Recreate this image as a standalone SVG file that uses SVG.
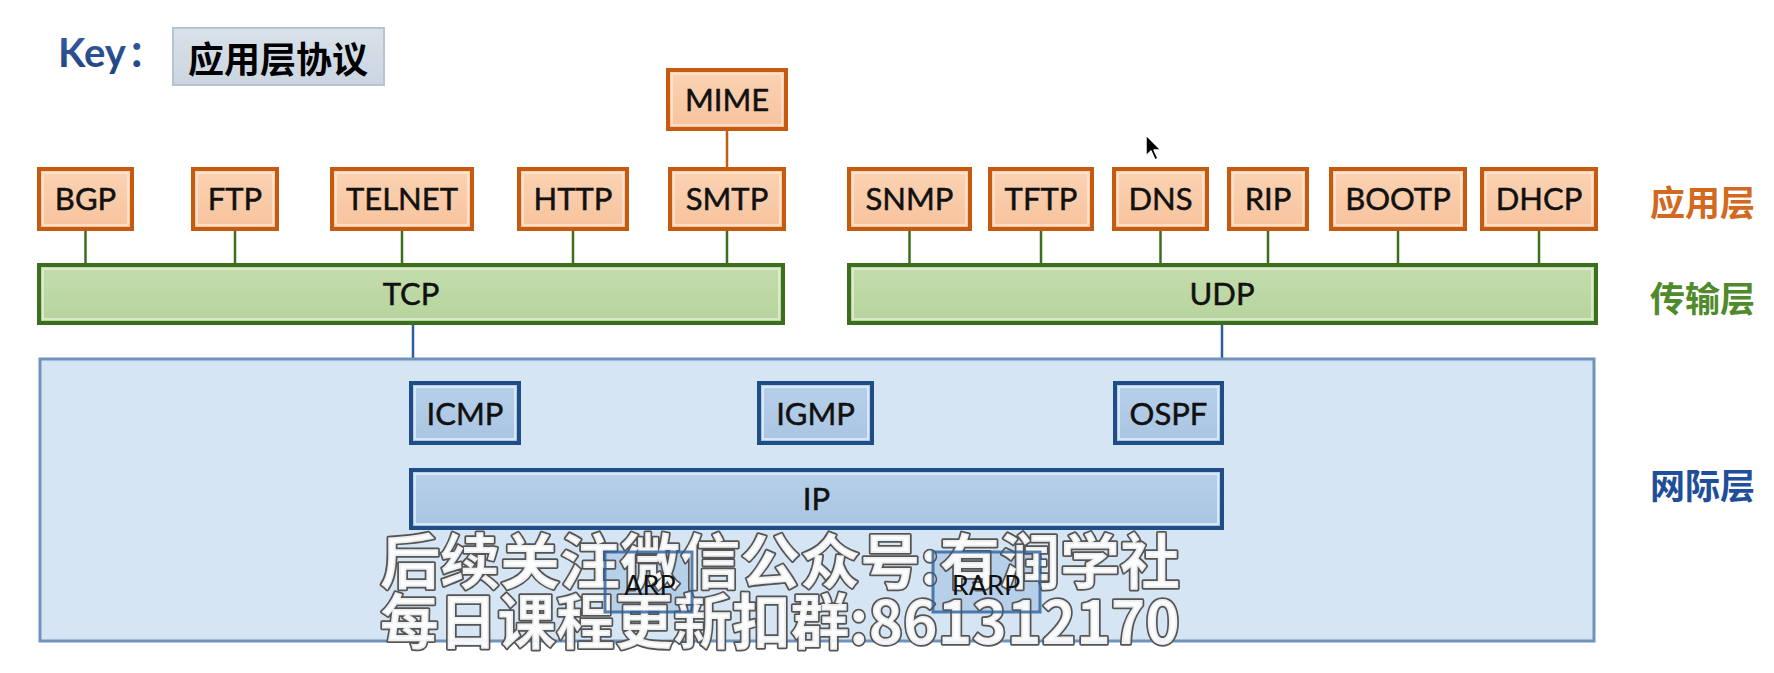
<svg xmlns="http://www.w3.org/2000/svg" width="1774" height="673" viewBox="0 0 1774 673">
<defs>
<linearGradient id="gApp" x1="0" y1="0" x2="0" y2="1"><stop offset="0" stop-color="#fbd3b4"/><stop offset="1" stop-color="#f7c39d"/></linearGradient>
<linearGradient id="gTr" x1="0" y1="0" x2="0" y2="1"><stop offset="0" stop-color="#c4dcad"/><stop offset="1" stop-color="#b6d49d"/></linearGradient>
<linearGradient id="gNet" x1="0" y1="0" x2="0" y2="1"><stop offset="0" stop-color="#b8d0e9"/><stop offset="1" stop-color="#a9c5e3"/></linearGradient>
<linearGradient id="gKey" x1="0" y1="0" x2="0" y2="1"><stop offset="0" stop-color="#d9e1ea"/><stop offset="1" stop-color="#cbd5e0"/></linearGradient>
<linearGradient id="gKeyTxt" x1="0" y1="0" x2="0" y2="1"><stop offset="0" stop-color="#3a63a8"/><stop offset="1" stop-color="#1f3f7c"/></linearGradient>
</defs>
<style>
text{font-family:Lato,"Liberation Sans","Noto Sans CJK SC",sans-serif;}
.cjk{font-family:"Noto Sans CJK SC","Noto Sans",sans-serif;font-weight:bold;}
.app{fill:url(#gApp);stroke:#c55a11;stroke-width:4;}
.appIn{fill:none;stroke:#fde6d4;stroke-width:1.5;}
.tr{fill:url(#gTr);stroke:#3b6e1f;stroke-width:4;}
.trIn{fill:none;stroke:#e3f0d6;stroke-width:1.5;}
.net{fill:url(#gNet);stroke:#1f4e87;stroke-width:4;}
.netIn{fill:none;stroke:#e6f0fa;stroke-width:1.5;}
.lbl{font-size:31px;fill:#111;stroke:#111;stroke-width:0.5;text-anchor:middle;}
.cg{stroke:#3b6e1f;stroke-width:2.5;fill:none;}
.co{stroke:#c55a11;stroke-width:2.5;fill:none;}
.cb{stroke:#2e5f9a;stroke-width:2.5;fill:none;}
.layer{font-size:35px;}
.wm{font-family:"Noto Sans CJK SC",sans-serif;font-weight:bold;font-size:60px;fill:#ffffff;fill-opacity:0.9;stroke:#555555;stroke-width:3.5;paint-order:stroke;stroke-linejoin:round;}
</style>
<rect width="1774" height="673" fill="#ffffff"/>

<g id="key">
<text x="58" y="67" font-size="40" font-weight="bold" fill="url(#gKeyTxt)">Key<tspan class="cjk" font-size="36" dx="2">：</tspan></text>
<rect x="173" y="28" width="211" height="57" fill="url(#gKey)" stroke="#b7c3d0" stroke-width="2"/>
<text class="cjk" x="278" y="57" font-size="36" fill="#000" text-anchor="middle" dominant-baseline="central">应用层协议</text>
</g>

<g id="connectors">
<line class="co" x1="727" y1="129" x2="727" y2="169"/>
<line class="cg" x1="85.5" y1="229" x2="85.5" y2="265"/>
<line class="cg" x1="235" y1="229" x2="235" y2="265"/>
<line class="cg" x1="402" y1="229" x2="402" y2="265"/>
<line class="cg" x1="573" y1="229" x2="573" y2="265"/>
<line class="cg" x1="727" y1="229" x2="727" y2="265"/>
<line class="cg" x1="909.5" y1="229" x2="909.5" y2="265"/>
<line class="cg" x1="1041" y1="229" x2="1041" y2="265"/>
<line class="cg" x1="1160.5" y1="229" x2="1160.5" y2="265"/>
<line class="cg" x1="1268" y1="229" x2="1268" y2="265"/>
<line class="cg" x1="1398" y1="229" x2="1398" y2="265"/>
<line class="cg" x1="1539" y1="229" x2="1539" y2="265"/>
<line class="cb" x1="413" y1="323" x2="413" y2="359"/>
<line class="cb" x1="1222" y1="323" x2="1222" y2="359"/>
</g>

<g id="MIME"><rect class="app" x="668" y="70" width="118" height="59"/><rect class="appIn" x="672" y="74" width="110" height="51"/><text class="lbl" x="727" y="110.5">MIME</text></g>
<g id="BGP"><rect class="app" x="39" y="169" width="93" height="60"/><rect class="appIn" x="43" y="173" width="85" height="52"/><text class="lbl" x="85.5" y="210">BGP</text></g>
<g id="FTP"><rect class="app" x="193" y="169" width="84" height="60"/><rect class="appIn" x="197" y="173" width="76" height="52"/><text class="lbl" x="235" y="210">FTP</text></g>
<g id="TELNET"><rect class="app" x="332" y="169" width="140" height="60"/><rect class="appIn" x="336" y="173" width="132" height="52"/><text class="lbl" x="402" y="210">TELNET</text></g>
<g id="HTTP"><rect class="app" x="519" y="169" width="108" height="60"/><rect class="appIn" x="523" y="173" width="100" height="52"/><text class="lbl" x="573" y="210">HTTP</text></g>
<g id="SMTP"><rect class="app" x="670" y="169" width="114" height="60"/><rect class="appIn" x="674" y="173" width="106" height="52"/><text class="lbl" x="727" y="210">SMTP</text></g>
<g id="SNMP"><rect class="app" x="849" y="169" width="121" height="60"/><rect class="appIn" x="853" y="173" width="113" height="52"/><text class="lbl" x="909.5" y="210">SNMP</text></g>
<g id="TFTP"><rect class="app" x="990" y="169" width="102" height="60"/><rect class="appIn" x="994" y="173" width="94" height="52"/><text class="lbl" x="1041" y="210">TFTP</text></g>
<g id="DNS"><rect class="app" x="1114" y="169" width="93" height="60"/><rect class="appIn" x="1118" y="173" width="85" height="52"/><text class="lbl" x="1160.5" y="210">DNS</text></g>
<g id="RIP"><rect class="app" x="1229" y="169" width="78" height="60"/><rect class="appIn" x="1233" y="173" width="70" height="52"/><text class="lbl" x="1268" y="210">RIP</text></g>
<g id="BOOTP"><rect class="app" x="1331" y="169" width="134" height="60"/><rect class="appIn" x="1335" y="173" width="126" height="52"/><text class="lbl" x="1398" y="210">BOOTP</text></g>
<g id="DHCP"><rect class="app" x="1482" y="169" width="114" height="60"/><rect class="appIn" x="1486" y="173" width="106" height="52"/><text class="lbl" x="1539" y="210">DHCP</text></g>

<g id="TCP"><rect class="tr" x="39" y="265" width="744" height="58"/><rect class="trIn" x="43" y="269" width="736" height="50"/><text class="lbl" x="411" y="305">TCP</text></g>
<g id="UDP"><rect class="tr" x="849" y="265" width="747" height="58"/><rect class="trIn" x="853" y="269" width="739" height="50"/><text class="lbl" x="1222" y="305">UDP</text></g>

<g id="network-layer"><rect x="40" y="359" width="1554" height="282" fill="#d6e5f3" stroke="#6f93bd" stroke-width="3"/></g>

<g id="ICMP"><rect class="net" x="411" y="383" width="108" height="60"/><rect class="netIn" x="415" y="387" width="100" height="52"/><text class="lbl" x="465" y="425">ICMP</text></g>
<g id="IGMP"><rect class="net" x="759" y="383" width="113" height="60"/><rect class="netIn" x="763" y="387" width="105" height="52"/><text class="lbl" x="815.5" y="425">IGMP</text></g>
<g id="OSPF"><rect class="net" x="1115" y="383" width="107" height="60"/><rect class="netIn" x="1119" y="387" width="99" height="52"/><text class="lbl" x="1168.5" y="425">OSPF</text></g>
<g id="IP"><rect class="net" x="411" y="470" width="811" height="58"/><rect class="netIn" x="415" y="474" width="803" height="50"/><text class="lbl" x="816.5" y="510">IP</text></g>

<g id="ARP-fill"><rect x="605" y="552" width="87" height="60" fill="#b7d0ea"/></g>
<g id="RARP-fill"><rect x="933" y="552" width="107" height="60" fill="#b7d0ea"/></g>

<g id="layer-labels">
<text class="cjk layer" x="1650" y="200" fill="#d2691e" dominant-baseline="central">应用层</text>
<text class="cjk layer" x="1650" y="296" fill="#4f8a2b" dominant-baseline="central">传输层</text>
<text class="cjk layer" x="1650" y="483" fill="#1f4e9a" dominant-baseline="central">网际层</text>
</g>

<g id="cursor"><path d="M1146,135 L1146,156 L1151,151 L1155,160 L1158,158.5 L1154,150 L1161,150 Z" fill="#000" stroke="#fff" stroke-width="1.5" stroke-linejoin="round"/></g>

<g id="watermark">
<text class="wm" x="380" y="584" textLength="800" lengthAdjust="spacingAndGlyphs">后续关注微信公众号:有润学社</text>
<text class="wm" x="380" y="644" textLength="800" lengthAdjust="spacingAndGlyphs">每日课程更新扣群:861312170</text>
</g>

<g id="ARP"><rect x="605" y="552" width="87" height="60" fill="none" stroke="#2e5f9a" stroke-width="3" stroke-opacity="0.8"/><text x="650" y="595" font-size="27" fill="#111" text-anchor="middle">ARP</text></g>
<g id="RARP"><rect x="933" y="552" width="107" height="60" fill="none" stroke="#2e5f9a" stroke-width="3" stroke-opacity="0.8"/><text x="986" y="595" font-size="27" fill="#111" text-anchor="middle">RARP</text></g>
</svg>
